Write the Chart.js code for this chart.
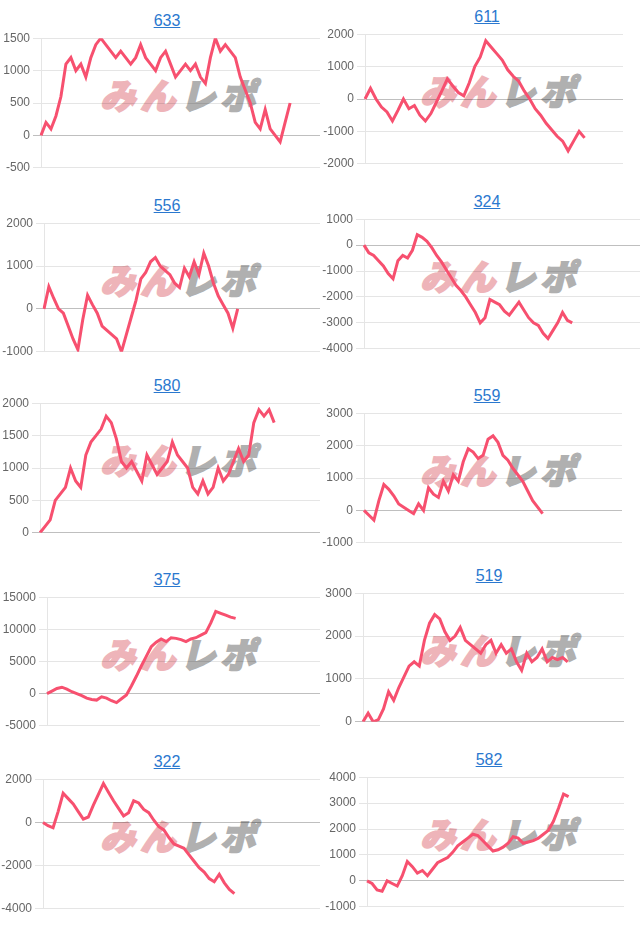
<!DOCTYPE html>
<html><head><meta charset="utf-8">
<script src="https://cdn.jsdelivr.net/npm/chart.js@4.4.0/dist/chart.umd.min.js"></script>
<style>
body{margin:0;background:#fff;width:640px;height:931px;overflow:hidden;position:relative;font-family:"Liberation Sans",Arial,sans-serif;}
.title{position:absolute;width:120px;text-align:center;font-size:16px;line-height:18px;color:#2a78cf;text-decoration:underline;}
.wm{position:absolute;font-family:"Noto Sans CJK JP";font-weight:900;font-size:35px;line-height:35px;white-space:nowrap;transform:skewX(-14deg);letter-spacing:5px;z-index:0}
.wm .p{color:#eeb4b9;-webkit-text-stroke:2px #eeb4b9}.wm .g{color:#b0b0b0;-webkit-text-stroke:2px #b0b0b0}
canvas{position:absolute;z-index:1}
</style></head>
<body>
<script>
const titles = ['633','611','556','324','580','559','375','519','322','582'];

const d633 = [0,200,100,300,600,1100,1200,1000,1100,900,1200,1400,1500,1400,1300,1200,1300,1200,1100,1200,1400,1200,1100,1000,1200,1300,1100,900,1000,1100,1000,1100,900,800,1200,1500,1300,1400,1300,1200,900,700,500,200,100,400,100,0,-100,200,500];
const d611 = [0,330,0,-250,-400,-680,-350,0,-300,-200,-500,-680,-450,-100,250,620,400,200,100,500,1000,1300,1800,1600,1400,1200,900,700,550,250,0,-300,-500,-750,-950,-1150,-1300,-1600,-1300,-1000,-1200];
const d556 = [0,520,250,0,-100,-400,-700,-950,-250,320,100,-100,-400,-500,-600,-700,-1000,-600,-200,200,700,850,1100,1200,1000,900,800,600,500,950,750,1100,800,1300,1000,600,300,100,-100,-450,0];
const d324 = [0,-300,-400,-600,-800,-1100,-1300,-600,-400,-500,-200,400,300,150,-100,-400,-650,-950,-1250,-1550,-1750,-2000,-2300,-2600,-3000,-2800,-2100,-2200,-2300,-2550,-2700,-2450,-2200,-2500,-2800,-3000,-3100,-3400,-3600,-3300,-3000,-2600,-2900,-3000];
const d580 = [0,100,200,500,600,700,1000,800,700,1200,1400,1500,1600,1800,1700,1450,1100,1000,1100,950,800,1200,1050,900,1000,1100,1400,1200,1100,1000,700,600,800,600,700,1000,800,900,1100,1300,1100,1200,1700,1900,1800,1900,1700];
const d559 = [0,-150,-300,300,800,650,450,200,100,0,-100,200,0,700,500,400,900,600,1100,900,1500,1900,1800,1600,1700,2200,2300,2100,1700,1550,1300,1100,900,600,300,100,-100];
const d375 = [0,400,800,1000,700,300,0,-300,-700,-900,-1000,-500,-700,-1100,-1400,-800,-200,1200,2700,4300,5800,7300,8000,8500,8100,8700,8600,8400,8100,8500,8700,9100,9500,11000,12800,12500,12200,11900,11700];
const d519 = [0,200,0,50,300,700,500,800,1050,1300,1400,1300,1900,2300,2500,2400,2100,1900,2000,2200,1900,1800,1700,1600,1800,1900,1600,1800,1600,1700,1400,1200,1600,1400,1500,1700,1400,1500,1450,1500,1400];
const d322 = [0,-150,-250,500,1350,1100,850,500,150,250,800,1300,1800,1400,1000,650,300,450,1000,900,600,450,100,-200,-350,-700,-1000,-1100,-1200,-1500,-1800,-2100,-2300,-2600,-2750,-2400,-2800,-3100,-3300];
const d582 = [0,-100,-350,-400,0,-100,-200,200,750,550,300,400,200,450,700,800,900,1100,1350,1500,1650,1800,1750,1550,1350,1150,1200,1300,1450,1700,1650,1450,1500,1550,1650,1800,1950,2300,2800,3350,3250];

const series = [d633,d611,d556,d324,d580,d559,d375,d519,d322,d582];
const yMins  = [-500,-2000,-1000,-4000,0,-1000,-5000,0,-4000,-1000];
const yMaxs  = [1500,2000,2000,1000,2000,3000,15000,3000,2000,4000];
const ySteps = [500,1000,1000,1000,500,1000,5000,1000,2000,1000];
const labelCounts = [57,48,58,58,56,53,56,52,56,52];

// layout: [cellX, plotLeft, plotRight, topGrid, bottomGrid, titleCenterX]
const layout = [
  [0,41,320,38,168,167],
  [320,365,623,34,164,487],
  [0,44,320,223,352,167],
  [320,364,640,219,349,487],
  [0,40,320,403,533,167],
  [320,364,622,413,543,487],
  [0,47,320,597,726,167],
  [320,363,624,593,722,489],
  [0,43,320,779,909,167],
  [320,367,624,777,907,489]
];

const FONT = '"Liberation Sans", Arial, Helvetica, sans-serif';

titles.forEach((t, i) => {
  const [cx, pl, pr, tg, bg, tcx] = layout[i];
  const title = document.createElement('a');
  title.className = 'title';
  title.textContent = t;
  title.style.left = (tcx - 60) + 'px';
  title.style.top = (tg - 18 - 8) + 'px';
  document.body.appendChild(title);

  const wm = document.createElement('div');
  wm.className = 'wm';
  wm.innerHTML = '<span class="p">みん</span><span class="g">レポ</span>';
  wm.style.left = (cx + 104) + 'px';
  wm.style.top = (tg + 38) + 'px';
  document.body.appendChild(wm);

  const cv = document.createElement('canvas');
  const w = pr - cx, h = bg - tg + 20;
  cv.width = w; cv.height = h;
  cv.style.left = cx + 'px';
  cv.style.top = (tg - 10) + 'px';
  cv.style.width = w + 'px'; cv.style.height = h + 'px';
  document.body.appendChild(cv);

  const labels = Array.from({length: labelCounts[i]}, (_, k) => String(k + 1));
  new Chart(cv, {
    type: 'line',
    data: {
      labels,
      datasets: [{
        data: series[i],
        borderColor: '#f7506f',
        borderWidth: 3,
        pointRadius: 0,
        pointHoverRadius: 0,
        fill: false,
        tension: 0
      }]
    },
    options: {
      responsive: false,
      animation: false,
      devicePixelRatio: 1,
      layout: { padding: { top: 10, bottom: 10, left: 0, right: 0 } },
      plugins: { legend: { display: false }, tooltip: { enabled: false }, title: { display: false } },
      scales: {
        x: { display: false },
        y: {
          min: yMins[i], max: yMaxs[i],
          ticks: { stepSize: ySteps[i], color: '#666', font: { size: 12, family: FONT }, padding: 3,
                   callback: v => String(v) },
          grid: {
            color: ctx => (ctx.tick && ctx.tick.value === 0) ? 'rgba(0,0,0,0.25)' : 'rgba(0,0,0,0.1)',
            tickLength: 8
          },
          border: { color: 'rgba(0,0,0,0.1)' },
          afterFit: s => { s.width = pl - cx; }
        }
      }
    }
  });
});
</script>
</body></html>
